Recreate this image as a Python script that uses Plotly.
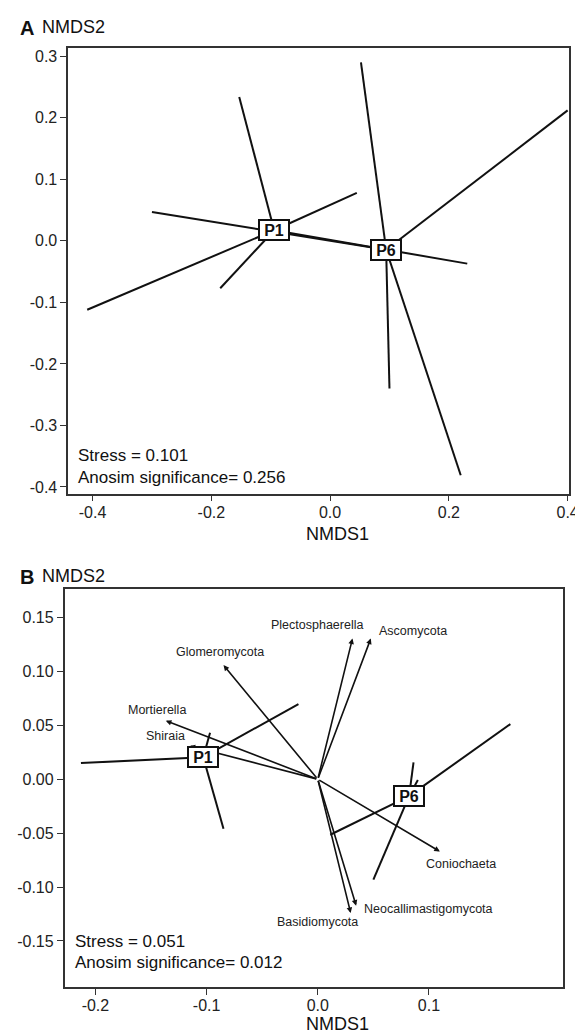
import plotly.graph_objects as go

# ---------------- Panel A data ----------------
a_p1_x = [-0.153, 0.045, -0.409, -0.185, 0.231]
a_p1_y = [0.234, 0.078, -0.112, -0.077, -0.037]
a_p6_x = [0.052, 0.400, 0.100, 0.220, -0.300]
a_p6_y = [0.290, 0.212, -0.240, -0.381, 0.047]
a_xticks = [-0.4, -0.2, 0.0, 0.2, 0.4]
a_xtick_text = ["-0.4", "-0.2", "0.0", "0.2", "0.4"]
a_yticks = [-0.4, -0.3, -0.2, -0.1, 0.0, 0.1, 0.2, 0.3]
a_ytick_text = ["-0.4", "-0.3", "-0.2", "-0.1", "0.0", "0.1", "0.2", "0.3"]
a_stress = "Stress = 0.101"
a_anosim = "Anosim significance= 0.256"

# ---------------- Panel B data ----------------
b_p1_x = [-0.213, -0.0174, -0.0969, -0.0848]
b_p1_y = [0.015, 0.0698, 0.0432, -0.046]
b_p6_x = [0.1732, 0.0861, 0.0900, 0.0500, 0.0112]
b_p6_y = [0.0512, 0.0157, -0.0006, -0.0932, -0.0515]
taxa = ["Plectosphaerella", "Ascomycota", "Glomeromycota", "Mortierella",
        "Shiraia", "Coniochaeta", "Neocallimastigomycota", "Basidiomycota"]
taxa_x = [0.0312, 0.0477, -0.0848, -0.1367, -0.1153, 0.1098, 0.0345, 0.0296]
taxa_y = [0.1306, 0.1306, 0.1059, 0.0543, 0.0309, -0.0670, -0.1173, -0.1241]
b_xticks = [-0.2, -0.1, 0.0, 0.1]
b_xtick_text = ["-0.2", "-0.1", "0.0", "0.1"]
b_yticks = [-0.15, -0.10, -0.05, 0.0, 0.05, 0.10, 0.15]
b_ytick_text = ["-0.15", "-0.10", "-0.05", "0.00", "0.05", "0.10", "0.15"]
b_stress = "Stress = 0.051"
b_anosim = "Anosim significance= 0.012"

# ---------------- styles ----------------
W, H = 583, 1032
FONT = "Liberation Sans, Arial, sans-serif"
LINE = "#111111"
label_shift = {
    "Plectosphaerella": (-35, 14, "center"),
    "Ascomycota": (6, 8, "left"),
    "Glomeromycota": (-4, 13, "center"),
    "Mortierella": (-9, 11, "center"),
    "Shiraia": (-24, 10, "center"),
    "Coniochaeta": (21, -13, "center"),
    "Neocallimastigomycota": (6, -3, "left"),
    "Basidiomycota": (-33, -9, "center"),
}


def mean(v):
    return sum(v) / len(v)


def spider(xs, ys):
    cx, cy = mean(xs), mean(ys)
    lx, ly = [], []
    for x, y in zip(xs, ys):
        lx += [cx, x, None]
        ly += [cy, y, None]
    return cx, cy, lx, ly


def centroid_box(name, cx, cy, xr, yr):
    return dict(x=cx, y=cy, xref=xr, yref=yr, text="<b>%s</b>" % name,
                showarrow=False, bgcolor="white", bordercolor=LINE,
                borderwidth=2, borderpad=1, width=26, height=16,
                align="center", valign="middle",
                font=dict(family=FONT, size=16, color=LINE))


fig = go.Figure()
annotations = []

# Panel A spiders
centA = {}
for name, xs, ys in [("P1", a_p1_x, a_p1_y), ("P6", a_p6_x, a_p6_y)]:
    cx, cy, lx, ly = spider(xs, ys)
    centA[name] = (cx, cy)
    fig.add_trace(go.Scatter(x=lx, y=ly, mode="lines", xaxis="x", yaxis="y",
                             line=dict(color=LINE, width=2), hoverinfo="skip",
                             showlegend=False))
for name, (cx, cy) in centA.items():
    annotations.append(centroid_box(name, cx, cy, "x", "y"))

# Panel B spiders
centB = {}
for name, xs, ys in [("P1", b_p1_x, b_p1_y), ("P6", b_p6_x, b_p6_y)]:
    cx, cy, lx, ly = spider(xs, ys)
    centB[name] = (cx, cy)
    fig.add_trace(go.Scatter(x=lx, y=ly, mode="lines", xaxis="x2", yaxis="y2",
                             line=dict(color=LINE, width=2), hoverinfo="skip",
                             showlegend=False))

# Panel B arrows
for t, x, y in zip(taxa, taxa_x, taxa_y):
    annotations.append(dict(x=x, y=y, ax=0, ay=0, xref="x2", yref="y2",
                            axref="x2", ayref="y2", text="", showarrow=True,
                            arrowhead=2, arrowsize=0.7, arrowwidth=1.6,
                            arrowcolor=LINE, standoff=0))
    dx, dy, anc = label_shift[t]
    annotations.append(dict(x=x, y=y, xref="x2", yref="y2", text=t, showarrow=False,
                            xshift=dx, yshift=dy, xanchor=anc, yanchor="middle",
                            font=dict(family=FONT, size=12.5, color="#222222")))

for name, (cx, cy) in centB.items():
    annotations.append(centroid_box(name, cx, cy, "x2", "y2"))


def px(x):
    return x / W


def py(y):
    return 1 - y / H


# Titles and stats texts
for txt, x, y, size, anc in [
    ("<b>A</b>", 10, 20, 20, "left"),
    ("NMDS2", 33, 19, 18, "left"),
    ("NMDS1", 335, 527, 18, "center"),
    ("<b>B</b>", 10, 570, 20, "left"),
    ("NMDS2", 33, 569, 18, "left"),
    ("NMDS1", 335, 1018, 18, "center"),
]:
    annotations.append(dict(x=px(x), y=py(y), xref="paper", yref="paper", text=txt,
                            showarrow=False, xanchor=anc, yanchor="middle",
                            font=dict(family=FONT, size=size, color="#111111")))

for txt, x, y in [(a_stress, 69, 448), (a_anosim, 69, 470),
                  (b_stress, 66, 935), (b_anosim, 66, 956)]:
    annotations.append(dict(x=px(x), y=py(y), xref="paper", yref="paper", text=txt,
                            showarrow=False, xanchor="left", yanchor="middle",
                            font=dict(family=FONT, size=17, color="#111111")))

axis_common = dict(showline=True, mirror=True, linecolor="#333333", linewidth=1.5,
                   ticks="outside", ticklen=6, tickwidth=1.2, tickcolor="#333333",
                   showgrid=False, zeroline=False,
                   tickfont=dict(family=FONT, size=16, color="#222222"))

fig.update_layout(
    width=W, height=H, margin=dict(l=0, r=0, t=0, b=0),
    paper_bgcolor="white", plot_bgcolor="white", showlegend=False,
    xaxis=dict(domain=[0.1051, 0.9787], range=[-0.441, 0.402], anchor="y",
               tickvals=a_xticks, ticktext=a_xtick_text, ticklabelstandoff=-3,
               **axis_common),
    yaxis=dict(domain=[0.5284, 0.9612], range=[-0.411, 0.3135], anchor="x",
               tickvals=a_yticks, ticktext=a_ytick_text, **axis_common),
    xaxis2=dict(domain=[0.0988, 0.9691], range=[-0.2277, 0.2208], anchor="y2",
                tickvals=b_xticks, ticktext=b_xtick_text, ticklabelstandoff=-3,
                **axis_common),
    yaxis2=dict(domain=[0.0497, 0.4363], range=[-0.1926, 0.1769], anchor="x2",
                tickvals=b_yticks, ticktext=b_ytick_text, **axis_common),
    annotations=annotations,
)

fig.write_html("out.html")
